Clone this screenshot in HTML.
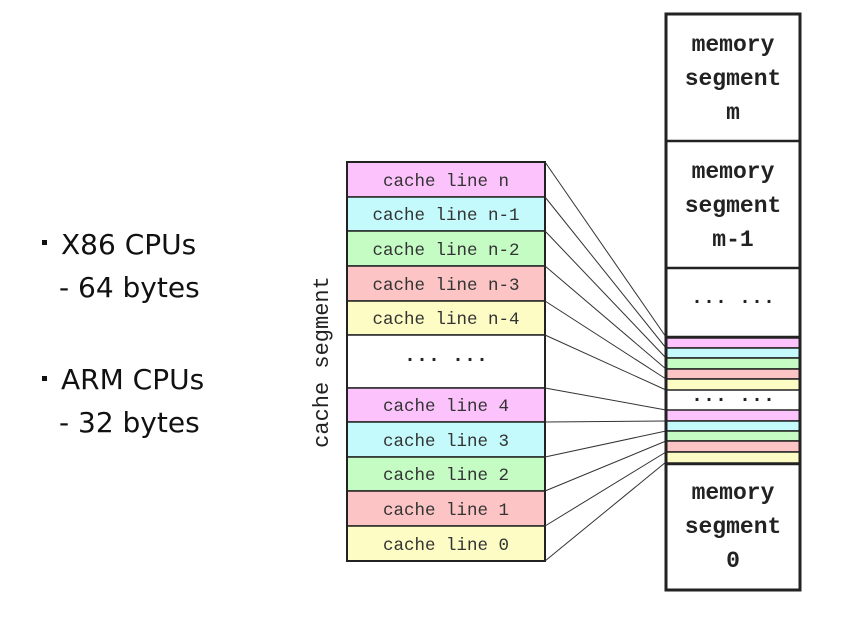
<!DOCTYPE html>
<html><head><meta charset="utf-8"><style>
html,body{margin:0;padding:0;background:#fff;}
svg{display:block}
.s{font-family:"DejaVu Sans","Liberation Sans",sans-serif;font-size:28px;fill:#111}
.c{font-family:"Liberation Mono",monospace;font-size:17.5px;fill:#333;text-anchor:middle}
.m{font-family:"Liberation Mono",monospace;font-size:23px;font-weight:bold;fill:#222;text-anchor:middle}
.d{font-family:"Liberation Mono",monospace;font-size:20px;font-weight:bold;fill:#222;text-anchor:middle}
</style></head><body>
<svg width="868" height="623" viewBox="0 0 868 623" xmlns="http://www.w3.org/2000/svg">
<rect x="42" y="240" width="5" height="5" fill="#111"/>
<text class="s" x="61" y="254">X86 CPUs</text>
<text class="s" x="59" y="297">- 64 bytes</text>
<rect x="42" y="376" width="5" height="5" fill="#111"/>
<text class="s" x="61" y="389">ARM CPUs</text>
<text class="s" x="59" y="432">- 32 bytes</text>
<text class="c" style="font-size:22px;fill:#222" transform="translate(328,362) rotate(-90)">cache segment</text>
<g stroke="#222" stroke-width="1.5">
<rect x="347" y="162" width="198" height="35" fill="#fcc2fc"/>
<rect x="347" y="197" width="198" height="34" fill="#c4fafc"/>
<rect x="347" y="231" width="198" height="35" fill="#c4fcc4"/>
<rect x="347" y="266" width="198" height="35" fill="#fcc4c4"/>
<rect x="347" y="301" width="198" height="34" fill="#fcfcc4"/>
<rect x="347" y="335" width="198" height="53" fill="#fff"/>
<rect x="347" y="388" width="198" height="34" fill="#fcc2fc"/>
<rect x="347" y="422" width="198" height="35" fill="#c4fafc"/>
<rect x="347" y="457" width="198" height="34" fill="#c4fcc4"/>
<rect x="347" y="491" width="198" height="35" fill="#fcc4c4"/>
<rect x="347" y="526" width="198" height="35" fill="#fcfcc4"/>
<rect x="347" y="162" width="198" height="399" fill="none" stroke-width="2"/>
</g>
<text class="c" x="446" y="186">cache line n</text>
<text class="c" x="446" y="220">cache line n-1</text>
<text class="c" x="446" y="255">cache line n-2</text>
<text class="c" x="446" y="290">cache line n-3</text>
<text class="c" x="446" y="324">cache line n-4</text>
<text class="d" x="446" y="365">··· ···</text>
<text class="c" x="446" y="411">cache line 4</text>
<text class="c" x="446" y="446">cache line 3</text>
<text class="c" x="446" y="480">cache line 2</text>
<text class="c" x="446" y="515">cache line 1</text>
<text class="c" x="446" y="550">cache line 0</text>
<g stroke="#333" stroke-width="1">
<line x1="545" y1="162" x2="666" y2="337"/>
<line x1="545" y1="197" x2="666" y2="348"/>
<line x1="545" y1="231" x2="666" y2="358"/>
<line x1="545" y1="266" x2="666" y2="369"/>
<line x1="545" y1="301" x2="666" y2="379"/>
<line x1="545" y1="335" x2="666" y2="390"/>
<line x1="545" y1="388" x2="666" y2="410"/>
<line x1="545" y1="422" x2="666" y2="421"/>
<line x1="545" y1="457" x2="666" y2="431"/>
<line x1="545" y1="491" x2="666" y2="441"/>
<line x1="545" y1="526" x2="666" y2="452"/>
<line x1="545" y1="561" x2="666" y2="462"/>
</g>
<g stroke="#222" stroke-width="1.5">
<rect x="666" y="14" width="134" height="576" fill="#fff" stroke-width="3"/>
<line x1="666" y1="141" x2="800" y2="141" stroke-width="2.5"/>
<line x1="666" y1="268" x2="800" y2="268" stroke-width="2.5"/>
<rect x="666" y="338" width="134" height="10" fill="#fcc2fc"/>
<rect x="666" y="348" width="134" height="10" fill="#c4fafc"/>
<rect x="666" y="358" width="134" height="11" fill="#c4fcc4"/>
<rect x="666" y="369" width="134" height="10" fill="#fcc4c4"/>
<rect x="666" y="379" width="134" height="11" fill="#fcfcc4"/>
<rect x="666" y="410" width="134" height="11" fill="#fcc2fc"/>
<rect x="666" y="421" width="134" height="10" fill="#c4fafc"/>
<rect x="666" y="431" width="134" height="10" fill="#c4fcc4"/>
<rect x="666" y="441" width="134" height="11" fill="#fcc4c4"/>
<rect x="666" y="452" width="134" height="11" fill="#fcfcc4"/>
<line x1="666" y1="337" x2="800" y2="337" stroke-width="2.5"/>
<line x1="666" y1="464" x2="800" y2="464" stroke-width="2.5"/>
<rect x="666" y="14" width="134" height="576" fill="none" stroke-width="3"/>
</g>
<text class="m" x="733" y="51">memory</text>
<text class="m" x="733" y="85">segment</text>
<text class="m" x="733" y="119">m</text>
<text class="m" x="733" y="178">memory</text>
<text class="m" x="733" y="212">segment</text>
<text class="m" x="733" y="246">m-1</text>
<text class="d" x="733" y="307">··· ···</text>
<text class="d" x="733" y="405">··· ···</text>
<text class="m" x="733" y="499">memory</text>
<text class="m" x="733" y="533">segment</text>
<text class="m" x="733" y="567">0</text>
</svg>
</body></html>
